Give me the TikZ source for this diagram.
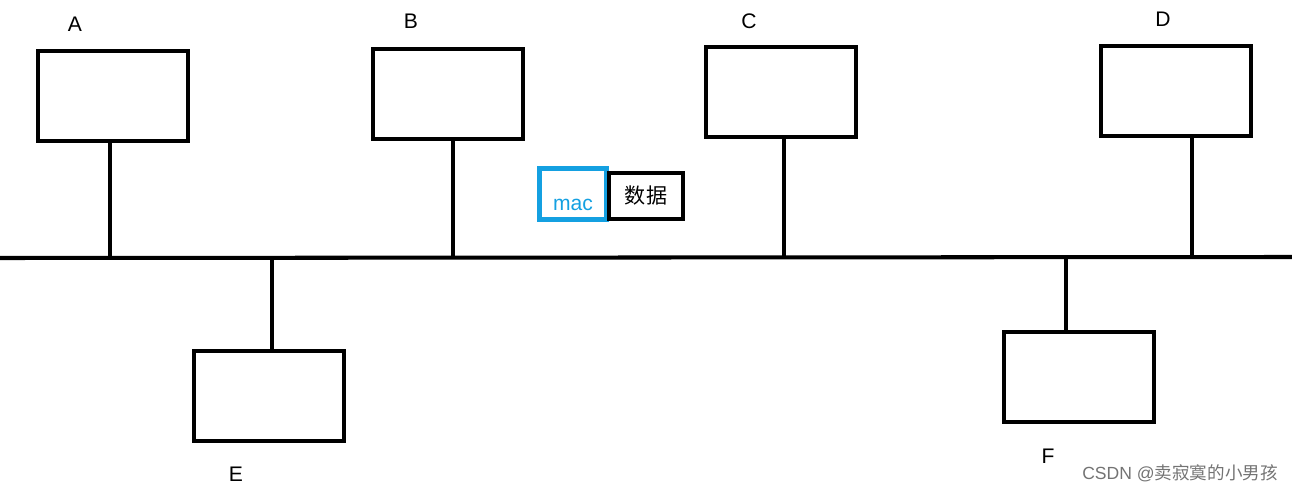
\documentclass[tikz,border=0pt]{standalone}
\usepackage{fontspec}
\setmainfont{Liberation Sans}
\newfontfamily\cjk{Noto Sans CJK SC}
\definecolor{macblue}{RGB}{20,160,225}
\tikzset{
	host/.style={draw, line width=2.3pt, minimum width=3.0cm, minimum height=1.8cm, inner sep=0pt},
	wire/.style={line width=2.3pt},
	lbl/.style={font=\fontsize{12}{14}\selectfont}
}
\begin{document}
\begin{tikzpicture}[x=0.02cm, y=-0.02cm]
	\useasboundingbox (0,0) rectangle (1292,493);
	% bus
	\coordinate (busl) at (0,258);
	\coordinate (busr) at (1292,257);
	\draw[wire] (busl) -- (busr);
	% hosts above the bus
	\node[host] (A) at (113,96) {};
	\node[host] (B) at (448,94) {};
	\node[host] (C) at (781,92) {};
	\node[host] (D) at (1176,91) {};
	% hosts below the bus
	\node[host] (E) at (269,396) {};
	\node[host] (F) at (1079,377) {};
	% taps
	\foreach \h/\x in {A/110, B/453, C/784, D/1192} {
		\coordinate (t\h) at (\x,258);
		\draw[wire] (t\h) -- (t\h |- \h.south);
	}
	\foreach \h/\x in {E/272, F/1066} {
		\coordinate (t\h) at (\x,258);
		\draw[wire] (t\h) -- (t\h |- \h.north);
	}
	% labels
	\node[lbl] (la) at (75,24) {A};
	\node[lbl] (lb) at (411,21) {B};
	\node[lbl] (lc) at (749,21) {C};
	\node[lbl] (ld) at (1163,19) {D};
	\node[lbl] (le) at (236,474) {E};
	\node[lbl] (lf) at (1048,456) {F};
	% frame
	\node[draw=macblue, line width=2.3pt, minimum width=1.34cm, minimum height=1.02cm, inner sep=0pt] (mac) at (573,194) {};
	\node[lbl, text=macblue] (mact) at (573,205) {mac};
	\node[draw, line width=2.3pt, minimum width=1.48cm, minimum height=0.92cm, inner sep=0pt, lbl] (data) at (646,196) {\cjk 数据};
	% watermark
	\node[text=black!55, font=\fontsize{10}{12}\selectfont] (wm) at (1180,473) {CSDN @{\cjk 卖寂寞的小男孩}};
\end{tikzpicture}
\end{document}
